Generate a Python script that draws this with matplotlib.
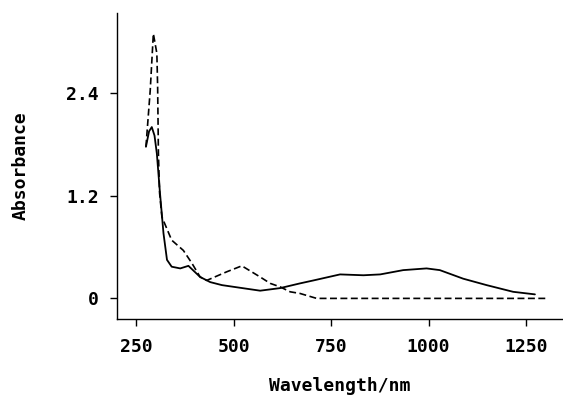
import matplotlib
matplotlib.use("Agg")
import matplotlib.pyplot as plt

# solid curve (wavelength in nm, absorbance)
solid_wl = [275, 283, 290, 297, 303, 311, 320, 329, 341, 363, 384, 414, 440,
            470, 500, 568, 619, 670, 705, 773, 833, 876, 935, 995, 1029, 1089,
            1149, 1217, 1273]
solid_abs = [1.77, 1.95, 2.0, 1.9, 1.69, 1.23, 0.76, 0.45, 0.37, 0.35, 0.38,
             0.25, 0.19, 0.155, 0.135, 0.09, 0.12, 0.175, 0.21, 0.28, 0.27,
             0.28, 0.33, 0.35, 0.33, 0.23, 0.155, 0.077, 0.047]

# dashed curve
dash_wl = [275, 286, 294, 303, 305, 306, 307, 310, 316, 341, 371, 393, 414,
           431, 482, 521, 568, 594, 619, 645, 670, 713, 1303]
dash_abs = [1.77, 2.43, 3.09, 2.86, 2.47, 2.08, 1.69, 1.23, 0.95, 0.68, 0.56,
            0.41, 0.25, 0.21, 0.31, 0.38, 0.25, 0.175, 0.135, 0.077, 0.058,
            0.0, 0.0]

x_ticks = [250, 500, 750, 1000, 1250]
y_ticks = [0, 1.2, 2.4]
y_tick_labels = ["0", "1.2", "2.4"]

plt.rcParams['font.family'] = ['DejaVu Sans Mono']
plt.rcParams['font.weight'] = 'bold'
plt.rcParams['lines.scale_dashes'] = False

fig = plt.figure(figsize=(5.63, 3.97), dpi=100)
ax = fig.add_axes([0.2073, 0.197, 0.7927, 0.77])

ax.plot(solid_wl, solid_abs, color='black', lw=1.3, solid_capstyle='round')
ax.plot(dash_wl, dash_abs, color='black', lw=1.2, dashes=(5, 2.5))

ax.set_xlim(200, 1345)
ax.set_ylim(-0.238, 3.33)
ax.set_xticks(x_ticks)
ax.set_yticks(y_ticks)
ax.set_yticklabels(y_tick_labels)

for side in ['top', 'right']:
    ax.spines[side].set_visible(False)
for side in ['left', 'bottom']:
    ax.spines[side].set_linewidth(1.0)

ax.tick_params(axis='both', direction='out', length=5, width=1.0,
               labelsize=13)
ax.tick_params(axis='x', pad=9)
ax.tick_params(axis='y', pad=8)

ax.set_xlabel('Wavelength/nm', fontsize=13, fontweight='bold', labelpad=15)
ax.set_ylabel('Absorbance', fontsize=13, fontweight='bold', labelpad=26)

fig.savefig('out.png', dpi=100)
